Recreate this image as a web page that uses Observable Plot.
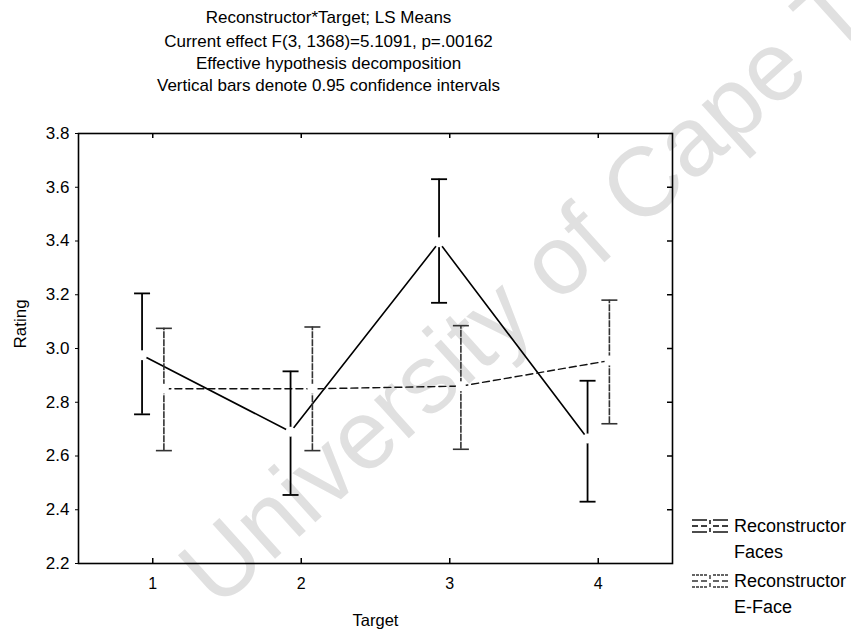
<!DOCTYPE html>
<html>
<head>
<meta charset="utf-8">
<script src="https://cdn.jsdelivr.net/npm/d3@7"></script>
<script src="https://cdn.jsdelivr.net/npm/@observablehq/plot@0.6"></script>
<style>
  html, body { margin: 0; padding: 0; background: #fff; }
  #chart { width: 851px; height: 632px; }
  #chart svg g[aria-label="y-axis tick label"] { font-size: 17px !important; }
  #chart svg g[aria-label="x-axis tick label"] { font-size: 16px !important; }
</style>
</head>
<body>
<div id="chart"></div>
<script>
// ---- data ----
const targets = [1, 2, 3, 4];
const seriesNames = ["Reconstructor Faces", "Reconstructor E-Face"];
const facesMean = [2.975, 2.69, 3.395, 2.665];
const facesLow  = [2.755, 2.455, 3.17, 2.43];
const facesHigh = [3.205, 2.915, 3.63, 2.88];
const efaceMean = [2.85, 2.85, 2.86, 2.955];
const efaceLow  = [2.62, 2.62, 2.625, 2.72];
const efaceHigh = [3.075, 3.08, 3.085, 3.18];
const yTicks = [2.2, 2.4, 2.6, 2.8, 3.0, 3.2, 3.4, 3.6, 3.8];
const titleLines = [
  "Reconstructor*Target; LS Means",
  "Current effect F(3, 1368)=5.1091, p=.00162",
  "Effective hypothesis decomposition",
  "Vertical bars denote 0.95 confidence intervals"
];
const watermark = "University of Cape Town";

// ---- build table ----
const offsets = {"Reconstructor Faces": -0.072, "Reconstructor E-Face": 0.075};
const rows = [];
targets.forEach((t, i) => {
  rows.push({series: seriesNames[0], target: t, mean: facesMean[i], lo: facesLow[i], hi: facesHigh[i]});
  rows.push({series: seriesNames[1], target: t, mean: efaceMean[i], lo: efaceLow[i], hi: efaceHigh[i]});
});
rows.forEach(d => d.xp = d.target + offsets[d.series]);
const faces = rows.filter(d => d.series === seriesNames[0]);
const eface = rows.filter(d => d.series === seriesNames[1]);

const font = "'Liberation Sans', Arial, Helvetica, sans-serif";
const W = 851, H = 632, mL = 78, mR = 179, mT = 133, mB = 69;
const fw = W - mL - mR, fh = H - mT - mB;

const capSymbol = {
  draw(ctx, size) {
    const r = Math.sqrt(size / Math.PI);
    ctx.moveTo(-r, 0); ctx.lineTo(r, 0);
  }
};

const plot = Plot.plot({
  width: W, height: H,
  marginLeft: mL, marginRight: mR, marginTop: mT, marginBottom: mB,
  style: {fontFamily: font, fontSize: "15px", color: "#000", background: "#fff"},
  x: {domain: [0.5, 4.5]},
  y: {domain: [2.2, 3.8]},
  marks: [
    // watermark
    Plot.text([watermark], {frameAnchor: "bottom-left", dx: 139, dy: 47, rotate: -42,
      textAnchor: "start", lineAnchor: "bottom", fontSize: 98, fill: "#e0e0e0", fontFamily: font}),
    // titles
    ...titleLines.map((t, i) => Plot.text([t], {frameAnchor: "top", dx: -47, dy: [-116, -92, -70, -48][i],
      lineAnchor: "middle", fontSize: 17, fill: "#000", letterSpacing: "-0.4px"})),
    // lines
    Plot.line(faces, {x: "xp", y: "mean", stroke: "#000", strokeWidth: 1.6}),
    Plot.line(eface, {x: "xp", y: "mean", stroke: "#111", strokeWidth: 1.4, strokeDasharray: "7,4"}),
    // error bars
    Plot.ruleX(faces, {x: "xp", y1: "lo", y2: "hi", stroke: "#000", strokeWidth: 1.8}),
    Plot.ruleX(eface, {x: "xp", y1: "lo", y2: "hi", stroke: "#333", strokeWidth: 1.6, strokeDasharray: "7,1"}),
    Plot.dot(faces, {x: "xp", y: "lo", symbol: capSymbol, r: 8, stroke: "#000", strokeWidth: 1.8}),
    Plot.dot(faces, {x: "xp", y: "hi", symbol: capSymbol, r: 8, stroke: "#000", strokeWidth: 1.8}),
    Plot.dot(eface, {x: "xp", y: "lo", symbol: capSymbol, r: 8, stroke: "#333", strokeWidth: 1.6}),
    Plot.dot(eface, {x: "xp", y: "hi", symbol: capSymbol, r: 8, stroke: "#333", strokeWidth: 1.6}),
    // gaps at the means
    Plot.dot(rows, {x: "xp", y: "mean", r: 5, fill: "#fff", stroke: "none"}),
    // inward ticks on right / top / bottom
    Plot.ruleY(yTicks.slice(1, -1), {insetLeft: fw - 5, stroke: "#000", strokeWidth: 1.5}),
    Plot.ruleX(targets, {insetBottom: fh - 5, stroke: "#000", strokeWidth: 1.5}),
    Plot.ruleX(targets, {insetTop: fh - 5, stroke: "#000", strokeWidth: 1.5}),
    // axes
    Plot.axisY({ticks: yTicks, tickFormat: d => d.toFixed(1), tickSize: 3, tickPadding: 6, label: null}),
    Plot.axisX({ticks: targets, tickFormat: d => String(d), tickSize: 0, tickPadding: 14, label: null}),
    Plot.text(["Target"], {frameAnchor: "bottom", dy: 57, lineAnchor: "middle", fontSize: 16.5}),
    Plot.text(["Rating"], {frameAnchor: "left", dx: -58, rotate: -90, lineAnchor: "middle", fontSize: 17}),
    Plot.frame({stroke: "#000", strokeWidth: 1.6})
  ]
});
document.getElementById("chart").appendChild(plot);

// ---- legend ----
const svg = d3.select(plot);
const leg = svg.append("g").attr("font-family", font).attr("font-size", 18).attr("text-anchor", "start");
const legendItems = [
  {name: seriesNames[0], y: 526, stroke: "#000", dash: null},
  {name: seriesNames[1], y: 581, stroke: "#333", dash: "3,1"}
];
legendItems.forEach(it => {
  const g = leg.append("g").attr("stroke", it.stroke).attr("stroke-width", 1.4).attr("fill", "none");
  const x0 = 692, x1 = 728, xc = 710;
  [-6, 0, 6].forEach((o, k) => {
    g.append("line").attr("x1", x0).attr("x2", xc - 3).attr("y1", it.y + o).attr("y2", it.y + o)
      .attr("stroke-dasharray", k === 1 ? "6,3" : it.dash);
    g.append("line").attr("x1", xc + 3).attr("x2", x1).attr("y1", it.y + o).attr("y2", it.y + o)
      .attr("stroke-dasharray", k === 1 ? "6,3" : it.dash);
  });
  g.append("line").attr("x1", xc).attr("x2", xc).attr("y1", it.y - 6).attr("y2", it.y - 2);
  g.append("line").attr("x1", xc).attr("x2", xc).attr("y1", it.y + 2).attr("y2", it.y + 6);
  const words = it.name.split(" ");
  leg.append("text").attr("x", 734).attr("y", it.y).attr("dy", "0.35em").text(words[0]);
  leg.append("text").attr("x", 734).attr("y", it.y + 26).attr("dy", "0.35em").text(words[1]);
});
</script>
</body>
</html>
